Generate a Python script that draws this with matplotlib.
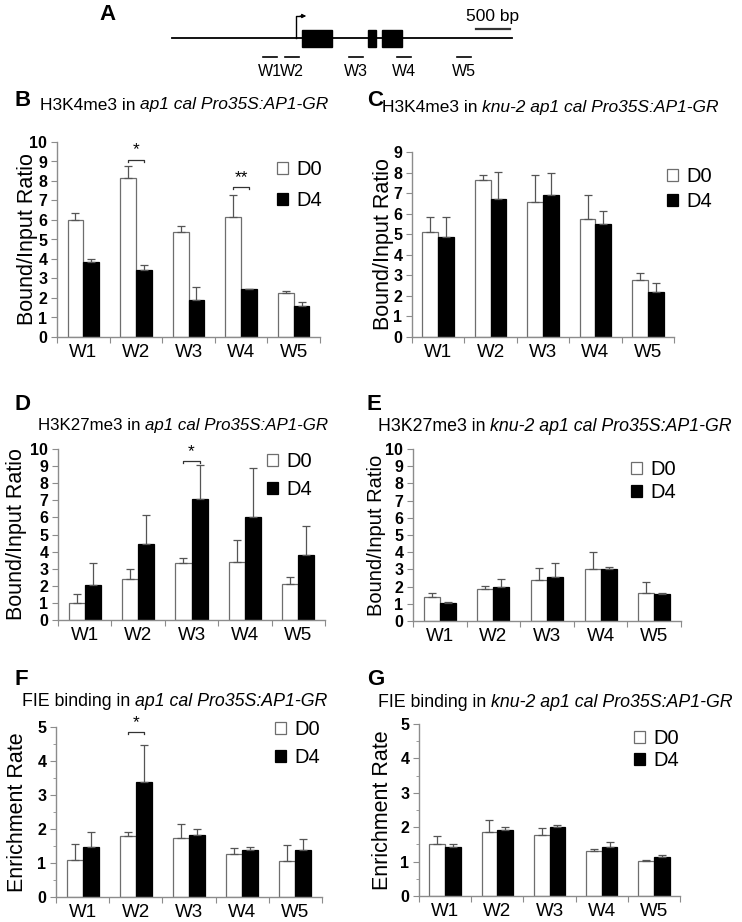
import matplotlib
matplotlib.use('Agg')
import matplotlib.pyplot as plt
import numpy as np
from matplotlib.patches import Patch, Rectangle

plt.rcParams['font.family'] = ['Liberation Sans', 'DejaVu Sans']

W, H = 742, 922

sites = ['W1', 'W2', 'W3', 'W4', 'W5']
series = ['D0', 'D4']

# ---- Panel A: gene model (bp) ----
gene_len = 5000
tss_bp = 1824
exons_bp = [(1912, 2353), (2882, 3000), (3088, 3382)]
amplicon_centers_bp = [1441, 1765, 2706, 3412, 4294]
amplicon_len_bp = 200
scalebar_bp = (4470, 4970)

# ---- Panel B: H3K4me3 in ap1 cal ----
b_d0 = [6.0, 8.15, 5.4, 6.15, 2.25]
b_d0_err = [0.35, 0.6, 0.3, 1.15, 0.1]
b_d4 = [3.85, 3.45, 1.9, 2.45, 1.6]
b_d4_err = [0.15, 0.25, 0.65, 0.0, 0.2]
b_sig = [(1, 9.1, '*'), (3, 7.7, '**')]

# ---- Panel C: H3K4me3 in knu-2 ----
c_d0 = [5.1, 7.65, 6.55, 5.75, 2.75]
c_d0_err = [0.75, 0.25, 1.35, 1.15, 0.35]
c_d4 = [4.85, 6.7, 6.9, 5.5, 2.2]
c_d4_err = [1.0, 1.35, 1.1, 0.65, 0.45]
c_sig = []

# ---- Panel D: H3K27me3 in ap1 cal ----
d_d0 = [1.0, 2.4, 3.35, 3.4, 2.1]
d_d0_err = [0.5, 0.6, 0.25, 1.25, 0.4]
d_d4 = [2.05, 4.45, 7.05, 6.0, 3.8]
d_d4_err = [1.3, 1.7, 2.0, 2.9, 1.7]
d_sig = [(2, 9.3, '*')]

# ---- Panel E: H3K27me3 in knu-2 ----
e_d0 = [1.4, 1.85, 2.4, 3.0, 1.65]
e_d0_err = [0.2, 0.2, 0.7, 1.0, 0.6]
e_d4 = [1.05, 2.0, 2.55, 3.0, 1.55]
e_d4_err = [0.07, 0.45, 0.85, 0.15, 0.07]
e_sig = []

# ---- Panel F: FIE binding in ap1 cal ----
f_d0 = [1.1, 1.78, 1.75, 1.27, 1.05]
f_d0_err = [0.45, 0.14, 0.4, 0.18, 0.47]
f_d4 = [1.48, 3.38, 1.82, 1.38, 1.38]
f_d4_err = [0.44, 1.08, 0.18, 0.1, 0.32]
f_sig = [(1, 4.85, '*')]

# ---- Panel G: FIE binding in knu-2 ----
g_d0 = [1.52, 1.85, 1.78, 1.3, 1.03]
g_d0_err = [0.22, 0.35, 0.2, 0.07, 0.02]
g_d4 = [1.42, 1.93, 2.0, 1.42, 1.13]
g_d4_err = [0.08, 0.08, 0.05, 0.14, 0.05]
g_sig = []

fig = plt.figure(figsize=(W / 100, H / 100), dpi=100)
renderer = fig.canvas.get_renderer()

AX_GRAY = '#8c8c8c'
ERR_GRAY = '#555555'


def px_axes(left, right, top, bottom):
    return fig.add_axes([left / W, 1 - bottom / H, (right - left) / W, (bottom - top) / H])


def fx(x):
    return x / W


def fy(y):
    return 1 - y / H


def mixed_text(x, y, parts, size):
    cur = fx(x)
    sp = fig.text(0, 0, 'a a', fontsize=size)
    sp2 = fig.text(0, 0, 'aa', fontsize=size)
    space_w = (sp.get_window_extent(renderer).width - sp2.get_window_extent(renderer).width) / W
    sp.remove(); sp2.remove()
    for s, style in parts:
        stripped = s.rstrip(' ')
        t = fig.text(cur, fy(y), stripped, fontsize=size, style=style, va='center', ha='left')
        cur += t.get_window_extent(renderer).width / W
        cur += space_w * (len(s) - len(stripped))


def bar_panel(box, d0, d0e, d4, d4e, ymax, minor, ylabel, ylabel_right, sig,
              leg_xy, leg_spacing, ylabel_size=15.5):
    ax = px_axes(*box)
    x = np.arange(len(sites))
    w = 0.3
    ax.bar(x - w / 2, d0, width=w, color='white', edgecolor='#6e6e6e', linewidth=0.9, zorder=2)
    ax.bar(x + w / 2, d4, width=w, color='black', edgecolor='black', linewidth=0.9, zorder=2)
    ax.errorbar(x - w / 2, d0, yerr=[np.zeros(len(d0)), d0e], fmt='none', ecolor=ERR_GRAY,
                elinewidth=0.9, capsize=3, capthick=0.9, zorder=3)
    ax.errorbar(x + w / 2, d4, yerr=[np.zeros(len(d4)), d4e], fmt='none', ecolor=ERR_GRAY,
                elinewidth=0.9, capsize=3, capthick=0.9, zorder=3)
    ax.set_xlim(-0.5, len(sites) - 0.5)
    ax.set_ylim(0, ymax)
    for s in ['top', 'right']:
        ax.spines[s].set_visible(False)
    for s in ['left', 'bottom']:
        ax.spines[s].set_color(AX_GRAY)
        ax.spines[s].set_linewidth(1.0)
    ax.set_xticks(np.arange(-0.5, len(sites), 1.0))
    ax.set_xticklabels([])
    ax.set_xticks(x, minor=True)
    ax.set_xticklabels(sites, minor=True, fontsize=13.5)
    ax.tick_params(axis='x', which='major', length=4, color=AX_GRAY, direction='out')
    ax.tick_params(axis='x', which='minor', length=0, pad=5)
    step = 1
    ax.set_yticks(np.arange(0, ymax + 0.01, step))
    ax.set_yticklabels([str(int(v)) for v in np.arange(0, ymax + 0.01, step)],
                       fontsize=11.5, fontweight='bold')
    ax.tick_params(axis='y', which='major', length=4, color=AX_GRAY, direction='out', pad=3)
    if minor:
        ax.set_yticks(np.arange(0.5, ymax, 1.0), minor=True)
        ax.tick_params(axis='y', which='minor', length=2.5, color=AX_GRAY, direction='out')
    ax.set_ylabel(ylabel, fontsize=ylabel_size)
    ax.yaxis.set_label_coords((ylabel_right - box[0]) / (box[1] - box[0]), 0.5)
    for (i, yv, lab) in sig:
        x0, x1 = i - w / 2, i + w / 2
        dy = ymax * 0.012
        ax.plot([x0, x0, x1, x1], [yv - dy, yv, yv, yv - dy], color='#333333', lw=0.9,
                clip_on=False)
        ax.text(i, yv + ymax * 0.01, lab, ha='center', va='bottom', fontsize=12.5,
                clip_on=False)
    handles = [Patch(facecolor='white', edgecolor='#6e6e6e', linewidth=0.9),
               Patch(facecolor='black', edgecolor='black', linewidth=0.9)]
    ax.legend(handles, series, loc='upper left', bbox_to_anchor=(fx(leg_xy[0]), fy(leg_xy[1])),
              bbox_transform=fig.transFigure, frameon=False, fontsize=14.5,
              handlelength=0.55, handleheight=0.55, handletextpad=0.4,
              labelspacing=leg_spacing, borderpad=0, borderaxespad=0)
    return ax


# ---- Panel A drawing ----
px_per_bp = 0.068
origin_px = 172
axA = fig.add_axes([0, 1 - 92 / H, 1, 92 / H])
axA.set_xlim(-origin_px / px_per_bp, (W - origin_px) / px_per_bp)
axA.set_ylim(92, 0)
axA.axis('off')
axA.plot([0, gene_len], [38.5, 38.5], color='black', lw=1.3)
for (s, e) in exons_bp:
    axA.add_patch(Rectangle((s, 30), e - s, 17, facecolor='black', edgecolor='black'))
axA.plot([tss_bp, tss_bp, tss_bp + 90], [38.5, 16, 16], color='black', lw=1.0)
axA.annotate('', xy=(tss_bp + 150, 16), xytext=(tss_bp + 60, 16),
             arrowprops=dict(arrowstyle='-|>', color='black', lw=0.8,
                             mutation_scale=6, shrinkA=0, shrinkB=0))
axA.plot(list(scalebar_bp), [29, 29], color='#333333', lw=1.6)
axA.text(np.mean(scalebar_bp), 24, '500 bp', ha='center', va='bottom', fontsize=12.5)
for name, c in zip(sites, amplicon_centers_bp):
    axA.plot([c - amplicon_len_bp / 2, c + amplicon_len_bp / 2], [57, 57], color='black', lw=1.2)
    axA.text(c, 72, name, ha='center', va='center', fontsize=11.5)
fig.text(fx(99), fy(14), 'A', fontsize=16, fontweight='bold', va='center', ha='left')

# ---- Bar panels ----
bar_panel((57, 320, 142, 337), b_d0, b_d0_err, b_d4, b_d4_err, 10, False,
          'Bound/Input Ratio', 38, b_sig, (277, 160), 0.6)
bar_panel((412, 674, 152, 337), c_d0, c_d0_err, c_d4, c_d4_err, 9, False,
          'Bound/Input Ratio', 394, c_sig, (667, 167), 0.3)
bar_panel((58, 325, 449, 620), d_d0, d_d0_err, d_d4, d_d4_err, 10, False,
          'Bound/Input Ratio', 27, d_sig, (267, 452), 0.45)
bar_panel((413, 681, 449, 621), e_d0, e_d0_err, e_d4, e_d4_err, 10, False,
          'Bound/Input Ratio', 386, e_sig, (631, 460), 0.2, ylabel_size=14.5)
bar_panel((56, 322, 727, 897), f_d0, f_d0_err, f_d4, f_d4_err, 5, True,
          'Enrichment Rate', 28, f_sig, (275, 720), 0.45)
bar_panel((419, 680, 724, 896), g_d0, g_d0_err, g_d4, g_d4_err, 5, True,
          'Enrichment Rate', 393, g_sig, (634, 729), 0.15)

# ---- Panel letters and titles ----
for lab, (x, y) in zip('BCDEFG', [(14, 100), (367, 100), (14, 404), (367, 404), (14, 679), (367, 679)]):
    fig.text(fx(x), fy(y), lab, fontsize=16, fontweight='bold', va='center', ha='left')

mixed_text(40, 105, [('H3K4me3 in ', 'normal'), ('ap1 cal Pro35S:AP1-GR', 'italic')], 12.5)
mixed_text(382, 107, [('H3K4me3 in ', 'normal'), ('knu-2 ap1 cal Pro35S:AP1-GR', 'italic')], 12.5)
mixed_text(38, 425, [('H3K27me3 in ', 'normal'), ('ap1 cal Pro35S:AP1-GR', 'italic')], 12.2)
mixed_text(378, 426, [('H3K27me3 in ', 'normal'), ('knu-2 ap1 cal Pro35S:AP1-GR', 'italic')], 12.8)
mixed_text(22, 701, [('FIE binding in ', 'normal'), ('ap1 cal Pro35S:AP1-GR', 'italic')], 12.8)
mixed_text(378, 702, [('FIE binding in ', 'normal'), ('knu-2 ap1 cal Pro35S:AP1-GR', 'italic')], 12.8)

fig.savefig('out.png', dpi=100, facecolor='white')
